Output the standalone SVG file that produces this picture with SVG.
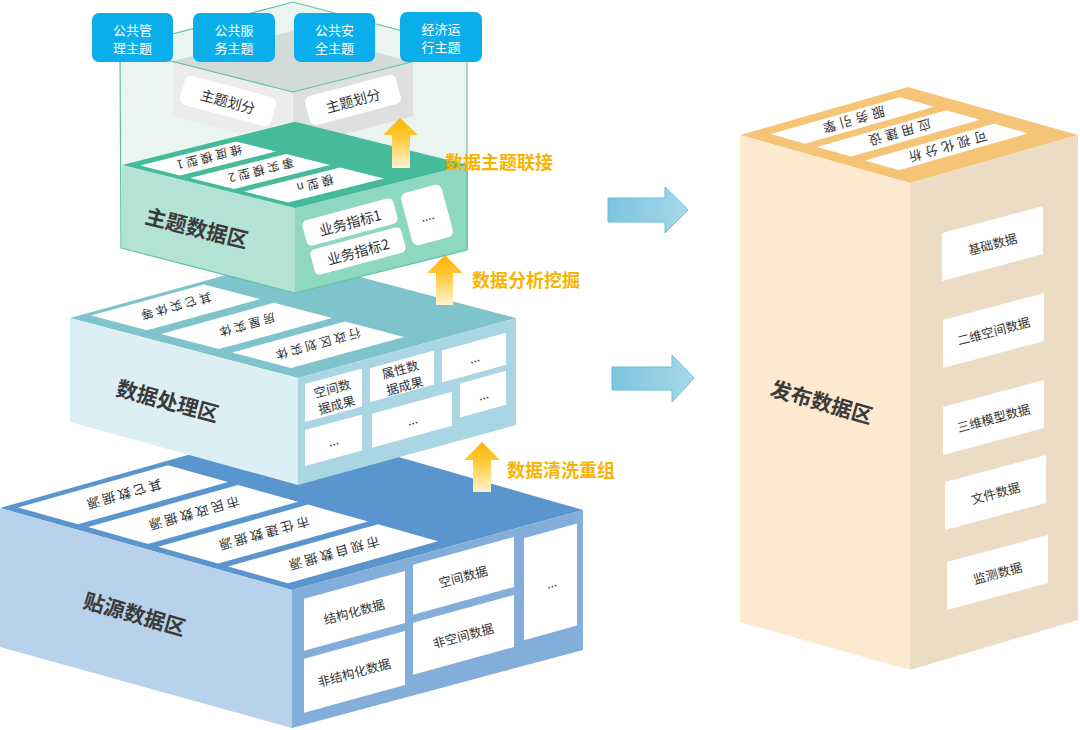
<svg xmlns="http://www.w3.org/2000/svg" width="1080" height="730" viewBox="0 0 1080 730">
<defs>
<linearGradient id="ya" x1="0" y1="0" x2="0" y2="1">
<stop offset="0" stop-color="#ffb400"/><stop offset="0.4" stop-color="#ffc93a"/><stop offset="1" stop-color="#fff4d2"/>
</linearGradient>
<linearGradient id="ba" x1="0" y1="0" x2="1" y2="0">
<stop offset="0" stop-color="#7cc4de"/><stop offset="1" stop-color="#a8d8ea"/>
</linearGradient>
<style>
text{font-family:"Noto Sans CJK SC","Noto Sans",sans-serif;fill:#333;text-anchor:middle;dominant-baseline:central}
.w{fill:#fff}
.pt{font-size:12.5px}
.st{font-size:12px;letter-spacing:3px}
.lbl{font-size:21px;font-weight:bold;fill:#3a3a3a}
.yl{font-size:18px;font-weight:bold;fill:#f8b300;text-anchor:start}
.tt{font-size:13px;fill:#fff}
.gl{fill:none;stroke:#5cc2a2;stroke-width:1.2}
.ya{fill:url(#ya)}
.ba{fill:url(#ba);stroke:#66c0e0;stroke-width:1}
.tb{fill:#0aaeea}
</style>
</defs>

<g id="zone-source">
<polygon points="0,508 291,426 583,510 292,590" fill="#5b95cd"/>
<polygon points="0,508 292,590 292,728 0,647" fill="#b7d2ea"/>
<polygon points="292,590 583,510 583,650 292,728" fill="#82aed9"/>
<polygon class="w" points="18,507.4 168,465.3 228,482.1 78,524.3"/>
<polygon class="w" points="88,527.1 238,484.9 298,501.8 148,544"/>
<polygon class="w" points="158,546.8 308,504.6 368,521.5 218,563.6"/>
<polygon class="w" points="228,566.5 378,524.3 438,541.2 288,583.3"/>
<text class="st" style="font-size:13px" transform="translate(123,495) rotate(164.3)">其它数据源</text>
<text class="st" style="font-size:13px" transform="translate(193,514) rotate(164.3)">市民政数据源</text>
<text class="st" style="font-size:13px" transform="translate(263,534) rotate(164.3)">市住建数据源</text>
<text class="st" style="font-size:13px" transform="translate(333,554) rotate(164.3)">市规自数据源</text>
<polygon class="w" points="304,598.7 405,570.9 405,622.9 304,650.7"/>
<polygon class="w" points="304,658.7 405,630.9 405,684.9 304,712.7"/>
<polygon class="w" points="413,564.7 514,537 514,587 413,614.7"/>
<polygon class="w" points="413,622.7 514,595 514,647 413,674.7"/>
<polygon class="w" points="524,538.2 577,523.6 577,625.6 524,640.2"/>
<text class="pt" transform="translate(354,611) rotate(-15)">结构化数据</text>
<text class="pt" transform="translate(354,672) rotate(-15)">非结构化数据</text>
<text class="pt" transform="translate(463,576) rotate(-15)">空间数据</text>
<text class="pt" transform="translate(463,635) rotate(-15)">非空间数据</text>
<text class="pt" transform="translate(551,582) rotate(-15)">...</text>
<text class="lbl" transform="translate(135,613) rotate(16)">贴源数据区</text>
</g>

<g id="zone-process">
<polygon points="70,318 288,258 516,318 298,378" fill="#80c4cb"/>
<polygon points="70,318 298,378 298,485 70,422" fill="#dbeff4"/>
<polygon points="298,378 516,318 516,425 298,485" fill="#a9d6e2"/>
<polygon class="w" points="91,315.5 204,284.4 260,299.1 147,330.2"/>
<polygon class="w" points="161,333.9 274,302.8 332,318 219,349.1"/>
<polygon class="w" points="232,352.5 345,321.5 404,337 291,368.1"/>
<text class="st" transform="translate(175,307.4) rotate(164.6)">其它实体等</text>
<text class="st" transform="translate(246,326) rotate(164.6)">房屋实体</text>
<text class="st" transform="translate(317,345) rotate(164.6)">行政区划实体</text>
<polygon class="w" points="305,384.1 362,368.4 362,406.4 305,422.1"/>
<polygon class="w" points="370,368.2 434,350.6 434,384.6 370,402.2"/>
<polygon class="w" points="442,350.4 506,332.8 506,364.8 442,382.4"/>
<polygon class="w" points="305,430.1 362,414.4 362,450.4 305,466.1"/>
<polygon class="w" points="372,413.65 452,391.65 452,425.65 372,447.65"/>
<polygon class="w" points="460,383.45 506,370.8 506,404.8 460,417.45"/>
<text class="pt" transform="translate(334,395) rotate(-15)"><tspan x="0" y="-8">空间数</tspan><tspan x="0" y="9">据成果</tspan></text>
<text class="pt" transform="translate(402,376) rotate(-15)"><tspan x="0" y="-8">属性数</tspan><tspan x="0" y="9">据成果</tspan></text>
<text class="pt" transform="translate(474,357) rotate(-15)">...</text>
<text class="pt" transform="translate(333,440) rotate(-15)">...</text>
<text class="pt" transform="translate(412,419) rotate(-15)">...</text>
<text class="pt" transform="translate(483,394) rotate(-15)">...</text>
<text class="lbl" transform="translate(168,400) rotate(15)">数据处理区</text>
</g>

<g id="zone-theme">
<polygon points="120,48 293,2 467,48 467,250 295,293 121,248" fill="#eaf5f1"/>
<polygon points="173,61 293,31 413,62 293,92" fill="#d3dbd8"/>
<polygon points="173,61 293,92 293,148 173,116" fill="#ececec"/>
<polygon points="293,92 413,62 413,116 293,148" fill="#dfdfdf"/>
<g transform="translate(228,101) rotate(15)"><rect x="-47" y="-15" width="94" height="30" rx="6" class="w"/><text style="font-size:14px">主题划分</text></g>
<g transform="translate(353,100) rotate(-15)"><rect x="-47" y="-15" width="94" height="30" rx="6" class="w"/><text style="font-size:14px">主题划分</text></g>
<polygon points="122,165 295,121.75 468,165 295,208.25" fill="#45bb99"/>
<polygon points="122,165 295,208 295,293 122,248" fill="#b4e3d6"/>
<polygon points="295,208 468,165 468,250 295,293" fill="#8ed7c1"/>
<polygon class="w" points="140,165.5 236,141.5 276,151.5 180,175.5"/>
<polygon class="w" points="190,178 286,154 330,165 234,189"/>
<polygon class="w" points="244,191.5 340,167.5 384,178.5 288,202.5"/>
<text class="st" transform="translate(208,158.5) rotate(166)">维度模型1</text>
<text class="st" transform="translate(260,171.5) rotate(166)">事实模型2</text>
<text class="st" transform="translate(314,185) rotate(166)">模型n</text>
<g transform="translate(350,222) rotate(-15)"><rect x="-47" y="-13" width="94" height="26" rx="5" class="w"/><text style="font-size:14px">业务指标1</text></g>
<g transform="translate(358,251) rotate(-15)"><rect x="-47" y="-13" width="94" height="26" rx="5" class="w"/><text style="font-size:14px">业务指标2</text></g>
<g transform="translate(427,215) rotate(-15)"><rect x="-21" y="-27" width="42" height="54" rx="6" class="w"/><text style="font-size:12px">....</text></g>
<polyline class="gl" points="121,248 120,48 293,2 467,48 467,250"/>
<polyline class="gl" points="120,48 293,92 467,48"/>
<polyline class="gl" points="121,248 295,293 467,250"/>
<text class="lbl" transform="translate(197,227) rotate(14)">主题数据区</text>
</g>

<g id="theme-boxes">
<g id="t1"><rect class="tb" x="92" y="13" width="81" height="49" rx="7"/><text class="tt"><tspan x="132.5" y="28.5">公共管</tspan><tspan x="132.5" y="46.5">理主题</tspan></text></g>
<g id="t2"><rect class="tb" x="193" y="13" width="82" height="49" rx="7"/><text class="tt"><tspan x="234" y="28.5">公共服</tspan><tspan x="234" y="46.5">务主题</tspan></text></g>
<g id="t3"><rect class="tb" x="294" y="13" width="81" height="49" rx="7"/><text class="tt"><tspan x="334.5" y="28.5">公共安</tspan><tspan x="334.5" y="46.5">全主题</tspan></text></g>
<g id="t4"><rect class="tb" x="400" y="12" width="82" height="50" rx="7"/><text class="tt"><tspan x="441" y="28">经济运</tspan><tspan x="441" y="46">行主题</tspan></text></g>
</g>

<g id="zone-publish">
<polygon points="740,135 908,87 1078,135 910,183" fill="#f6c476"/>
<polygon points="740,135 910,183 910,670 740,622" fill="#fce9d0"/>
<polygon points="910,183 1078,135 1078,620 910,670" fill="#ecdcc6"/>
<polygon class="w" points="771,134.1 900,97.2 934,106.8 805,143.7"/>
<polygon class="w" points="817,147.1 946,110.2 980,119.8 851,156.6"/>
<polygon class="w" points="865,160.6 994,123.7 1028,133.3 899,170.2"/>
<text class="st" style="letter-spacing:4px;font-size:13px" transform="translate(852,120.6) rotate(164)">服务引擎</text>
<text class="st" style="letter-spacing:4px;font-size:13px" transform="translate(898,133.4) rotate(164)">应用建设</text>
<text class="st" style="letter-spacing:4px;font-size:13px" transform="translate(946,147.4) rotate(164)">可视化分析</text>
<polygon class="w" points="942,233 1043,206 1043,254 942,281"/>
<polygon class="w" points="943,320 1044,293 1044,341 943,368"/>
<polygon class="w" points="943,407 1044,380 1044,428 943,455"/>
<polygon class="w" points="945,482 1046,455 1046,503 945,530"/>
<polygon class="w" points="947,562 1048,535 1048,583 947,610"/>
<text class="pt" transform="translate(992.5,243.5) rotate(-15)">基础数据</text>
<text class="pt" transform="translate(993.5,330.5) rotate(-15)">二维空间数据</text>
<text class="pt" transform="translate(993.5,417.5) rotate(-15)">三维模型数据</text>
<text class="pt" transform="translate(995.5,492.5) rotate(-15)">文件数据</text>
<text class="pt" transform="translate(997.5,572.5) rotate(-15)">监测数据</text>
<text class="lbl" transform="translate(822,401) rotate(16)">发布数据区</text>
</g>

<g id="connectors">
<polygon class="ya" points="400,118 418,135 410,135 410,168 392,168 392,135 383,135"/>
<polygon class="ya" points="445,255 463,273 453,273 453,305 436,305 436,273 427,273"/>
<polygon class="ya" points="482,442 500,460 491,460 491,492 473,492 473,460 464,460"/>
<text class="yl" x="445" y="161">数据主题联接</text>
<text class="yl" x="472" y="279">数据分析挖掘</text>
<text class="yl" x="507" y="469">数据清洗重组</text>
<polygon class="ba" points="608,198 665,198 665,187 688,210 665,233 665,222 608,222"/>
<polygon class="ba" points="612,367 672,367 672,355 694,378 672,402 672,390 612,390"/>
</g>
</svg>
